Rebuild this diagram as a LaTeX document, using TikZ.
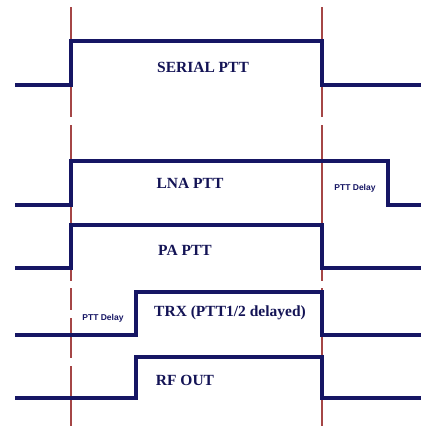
\documentclass[tikz,border=0pt]{standalone}
\usepackage{fontspec}
\setmainfont{Liberation Serif}
\newfontfamily\delayfont{Liberation Sans}
\usetikzlibrary{positioning}
\definecolor{wavecol}{RGB}{22,22,100}
\definecolor{markcol}{RGB}{165,70,70}

\begin{document}
\begin{tikzpicture}
    [x=1pt, y=-1pt,
    wave/.style={line width=3.2pt, wavecol},
    edgemark/.style={line width=1.2pt, markcol, dash pattern=on 110pt off 8pt on 156pt off 7pt on 22pt off 8pt on 40pt off 8pt},
    siglabel/.style={font=\bfseries\fontsize{15.5}{17}\selectfont, wavecol!85!black, inner sep=0pt},
    delaylabel/.style={font=\delayfont\bfseries\fontsize{8.5}{9}\selectfont, wavecol, inner sep=0pt}]
        \useasboundingbox (0,0) rectangle (423,426);

        % Edge markers
        \coordinate (M1top) at (71,7);
        \coordinate (M1bot) at (71,426);
        \coordinate (M2top) at (322,7);
        \coordinate (M2bot) at (322,426);
        \draw[edgemark] (M1top) -- (M1bot);
        \draw[edgemark] (M2top) -- (M2bot);

        % Signal SERIAL PTT
        \draw[wave] (15,85) -| (71,41) -| (322,85) -- (421,85);
        \node[siglabel] (serial) at (203,67) {SERIAL PTT};

        % Signal LNA PTT
        \draw[wave] (15,205) -| (71,161) -| (388,205) -- (421,205);
        \node[siglabel] (lna) at (190,183) {LNA PTT};
        \node[delaylabel] (lnadelay) at (355,188) {PTT Delay};

        % Signal PA PTT
        \draw[wave] (15,268) -| (71,225) -| (322,268) -- (421,268);
        \node[siglabel] (pa) at (185,250) {PA PTT};

        % Signal TRX
        \draw[wave] (15,335) -| (136,292) -| (322,335) -- (421,335);
        \node[siglabel] (trx) at (230,313) {TRX (PTT1/2 delayed)};
        \node[delaylabel] (trxdelay) at (103,318) {PTT Delay};

        % Signal RF OUT
        \draw[wave] (15,398) -| (136,357) -| (322,398) -- (421,398);
        \node[siglabel] (rfout) at (185,380) {RF OUT};
    \end{tikzpicture}
\end{document}
